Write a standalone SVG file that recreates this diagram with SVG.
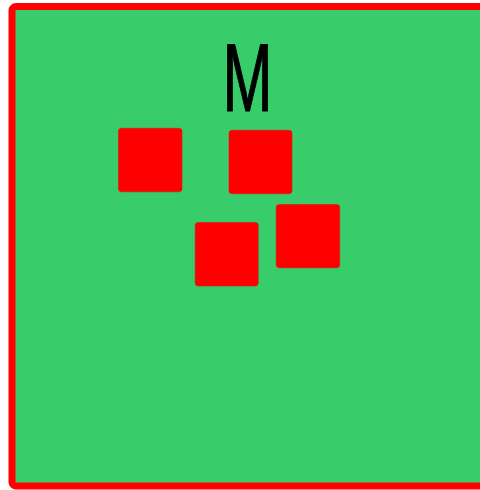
<svg xmlns="http://www.w3.org/2000/svg" width="480" height="490" viewBox="0 0 480 490">
<style>
.frame{fill:#38cc6a;stroke:#ff0000;stroke-width:7}
.box{fill:#ff0000;stroke:#e01010;stroke-width:0.6}
.lbl{font-family:"Liberation Sans",Arial,sans-serif;font-size:97px;fill:#000;stroke:#000;stroke-width:1.2;stroke-linejoin:round}
</style>
<rect fill="#fff" x="0" y="0" width="480" height="490"/>
<g id="frame">
<rect class="frame" x="12" y="6.5" width="472" height="479.5" rx="4"/>
</g>
<g id="label">
<text class="lbl" text-anchor="middle" transform="translate(247.5,111) scale(0.62,1)">M</text>
</g>
<g id="box1"><rect class="box" x="118.5" y="128.3" width="63.5" height="63.5" rx="3"/></g>
<g id="box2"><rect class="box" x="229" y="130.3" width="63" height="63.4" rx="3"/></g>
<g id="box3"><rect class="box" x="195.2" y="222.5" width="63" height="63.5" rx="3"/></g>
<g id="box4"><rect class="box" x="276.2" y="204.5" width="63.5" height="63.3" rx="3"/></g>
<g id="connectors"></g>
</svg>
